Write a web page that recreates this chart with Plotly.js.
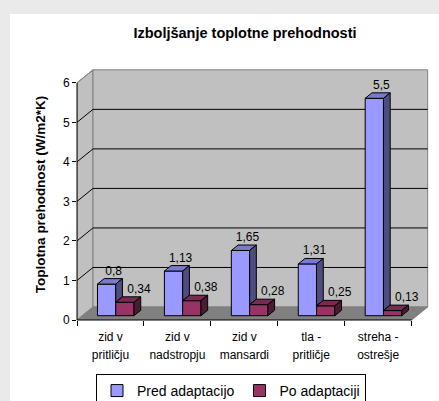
<!DOCTYPE html>
<html>
<head>
<meta charset="utf-8">
<script src="https://cdn.plot.ly/plotly-3.0.1.min.js"></script>
<style>html,body{margin:0;padding:0;background:#eaeaea;}</style>
</head>
<body>
<div id="chart" style="width:439px;height:401px;"></div>
<script>
// ---- data ----
const categories = ["zid v pritličju", "zid v nadstropju", "zid v mansardi", "tla - pritličje", "streha - ostrešje"];
const predValues = [0.8, 1.13, 1.65, 1.31, 5.5];
const poValues = [0.34, 0.38, 0.28, 0.25, 0.13];
const seriesNames = ["Pred adaptacijo", "Po adaptaciji"];
const yTicks = [0, 1, 2, 3, 4, 5, 6];
const chartTitle = "Izboljšanje toplotne prehodnosti";
const yTitle = "Toplotna prehodnost (W/m2*K)";

// ---- 3D look (style constants) ----
const FONT = "Liberation Sans, Arial, sans-serif";
const DX = 0.239, DY = 0.329;   // depth of the room in data units
const F = 0.33, BD = 0.42;      // bar front depth fraction, bar depth fraction
const W = 0.273;                // bar width
const YMAX = yTicks[yTicks.length - 1];
const XMIN = -0.5, XMAX = categories.length - 0.5;
const colors = {
  pred: {front: "#9999FF", top: "#7A7ACC", side: "#4D4D80"},
  po:   {front: "#993366", top: "#7A2952", side: "#4D1A33"}
};
const fmt = v => String(v).replace(".", ",");
const idx = categories.map((_, i) => i);
const line1 = categories.map(c => c.slice(0, c.lastIndexOf(" ")));
const line2 = categories.map(c => c.slice(c.lastIndexOf(" ") + 1));
const base = F * DY;

function seriesTraces(vals, other, offset, col, name, labelShift, isLeft) {
  const out = [];
  out.push({
    type: "bar", name: name, x: idx, y: vals, base: base, width: W, offset: offset + F * DX,
    marker: {color: col.front, line: {color: "#000", width: 1}}, hoverinfo: "skip"
  });
  const tx = [], ty = [], sx = [], sy = [], lx = [], ly = [], lt = [];
  vals.forEach((v, i) => {
    const xl = i + offset + F * DX, xr = xl + W, top = base + v;
    const ox = BD * DX, oy = BD * DY;
    tx.push(xl, xr, xr + ox, xl + ox, xl, null);
    ty.push(top, top, top + oy, top + oy, top, null);
    let hb = base;
    if (isLeft) hb = base + Math.min(v, other[i]);
    sx.push(xr, xr, xr + ox, xr + ox, xr, null);
    sy.push(hb, top, top + oy, hb + oy, hb, null);
    lx.push((xl + xr) / 2 + labelShift);
    ly.push(top + 0.317);
    lt.push(fmt(v));
  });
  out.push({type: "scatter", mode: "lines", x: tx, y: ty, fill: "toself", fillcolor: col.top,
    line: {color: "#000", width: 1}, showlegend: false, hoverinfo: "skip"});
  out.push({type: "scatter", mode: "lines", x: sx, y: sy, fill: "toself", fillcolor: col.side,
    line: {color: "#000", width: 1}, showlegend: false, hoverinfo: "skip"});
  out.push({type: "scatter", mode: "text", x: lx, y: ly, text: lt, textposition: "middle center",
    xaxis: "x2", yaxis: "y",
    textfont: {family: FONT, size: 12, color: "#000"}, showlegend: false, hoverinfo: "skip", cliponaxis: false});
  return out;
}

const data = [].concat(
  seriesTraces(predValues, poValues, -W, colors.pred, seriesNames[0], 0.105, true),
  seriesTraces(poValues, predValues, 0, colors.po, seriesNames[1], 0.21, false)
);

// ---- room shapes ----
const shapes = [];
shapes.push({type: "rect", xref: "paper", yref: "paper", x0: -0.1903, x1: 1.04, y0: -0.33, y1: 1.219,
  fillcolor: "#ffffff", line: {width: 0}, layer: "below"});
// side wall
shapes.push({type: "path", xref: "x", yref: "y", layer: "below", fillcolor: "#C0C0C0", line: {color: "#808080", width: 1},
  path: `M${XMIN},0 L${XMIN},${YMAX} L${XMIN + DX},${YMAX + DY} L${XMIN + DX},${DY} Z`});
// back wall
shapes.push({type: "rect", xref: "x", yref: "y", layer: "below", fillcolor: "#C0C0C0", line: {color: "#808080", width: 1},
  x0: XMIN + DX, x1: XMAX + DX, y0: DY, y1: YMAX + DY});
// floor
shapes.push({type: "path", xref: "x", yref: "y", layer: "below", fillcolor: "#808080", line: {color: "#808080", width: 1},
  path: `M${XMIN},0 L${XMAX},0 L${XMAX + DX},${DY} L${XMIN + DX},${DY} Z`});
// gridlines
yTicks.forEach(t => {
  if (t === 0) return;
  const c = t === YMAX ? "#808080" : "#000";
  shapes.push({type: "line", xref: "x", yref: "y", layer: "below", line: {color: c, width: 1},
    x0: XMIN, y0: t, x1: XMIN + DX, y1: t + DY});
  if (t !== YMAX) shapes.push({type: "line", xref: "x", yref: "y", layer: "below", line: {color: "#000", width: 1},
    x0: XMIN + DX, y0: t + DY, x1: XMAX + DX, y1: t + DY});
});
// axis lines
shapes.push({type: "line", xref: "paper", yref: "y", layer: "above", line: {color: "#000", width: 1},
  x0: 0, x1: 0, y0: 0, y1: YMAX});
shapes.push({type: "line", xref: "x", yref: "paper", layer: "above", line: {color: "#000", width: 1},
  x0: XMIN, x1: XMAX, y0: 0, y1: 0});

const xr = [XMIN, XMAX + DX + 0.02];
const commonX = {range: xr, showgrid: false, zeroline: false, showline: false, fixedrange: true};
const layout = {
  width: 439, height: 401,
  margin: {l: 77, r: 10, t: 69, b: 81, autoexpand: false},
  paper_bgcolor: "#eaeaea", plot_bgcolor: "rgba(0,0,0,0)",
  font: {family: FONT, color: "#000"},
  title: {text: "<b>" + chartTitle + "</b>", font: {family: FONT, size: 14.5, color: "#000"},
    x: 0.558, xanchor: "center", xref: "container", y: 0.918, yanchor: "middle", yref: "container"},
  barmode: "overlay",
  showlegend: true,
  legend: {orientation: "h", x: 0.4375, xanchor: "center", y: -0.215, yanchor: "top",
    bgcolor: "#ffffff", bordercolor: "#000", borderwidth: 1, font: {family: FONT, size: 14, color: "#000"},
    itemwidth: 30, traceorder: "normal"},
  xaxis: Object.assign({}, commonX, {tickmode: "array", tickvals: idx, ticktext: line1, ticks: "",
    ticklabelstandoff: 8, tickfont: {family: FONT, size: 12, color: "#000"},
    minor: {tickmode: "array", tickvals: idx.map(i => i - 0.5).concat([XMAX]), ticks: "outside", ticklen: 5,
      tickcolor: "#000", showgrid: false}}),
  xaxis2: Object.assign({}, commonX, {overlaying: "x", anchor: "y", side: "bottom", tickmode: "array",
    tickvals: idx, ticktext: line2, ticks: "", ticklabelstandoff: 26, tickfont: {family: FONT, size: 12, color: "#000"}}),
  yaxis: {range: [0, YMAX + DY + 0.021], tickmode: "array", tickvals: yTicks, ticktext: yTicks.map(String),
    ticks: "outside", ticklen: 4, tickcolor: "#000", showgrid: false, zeroline: false, showline: false,
    tickfont: {family: FONT, size: 12, color: "#000"}, fixedrange: true,
    title: {text: "<b>" + yTitle + "</b>", font: {family: FONT, size: 13.5, color: "#000"}, standoff: 14}},
  shapes: shapes
};
Plotly.newPlot("chart", data, layout, {displayModeBar: false, staticPlot: true});
</script>
</body>
</html>
